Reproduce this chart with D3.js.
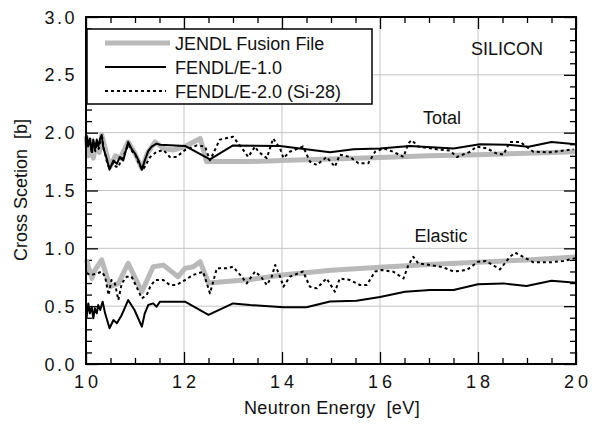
<!DOCTYPE html>
<html><head><meta charset="utf-8">
<script src="https://cdn.jsdelivr.net/npm/d3@7"></script>
<style>
body{margin:0;background:#fff;}
text{font-family:"Liberation Sans",Arial,Helvetica,sans-serif;fill:#111;}
</style></head>
<body><svg id="c" width="592" height="425"></svg>
<script>
// ---- data ----
const xTicks = [10,12,14,16,18,20];
const yTicks = [0.0,0.5,1.0,1.5,2.0,2.5,3.0];
const seriesNames = ["JENDL Fusion File","FENDL/E-1.0","FENDL/E-2.0 (Si-28)"];

const jendlTotal = [[10.0,1.97],[10.05,1.80],[10.1,1.93],[10.15,1.78],[10.2,1.90],[10.27,1.83],[10.32,1.98],[10.49,1.705],[10.6,1.80],[10.7,1.78],[10.86,1.92],[11.0,1.82],[11.14,1.69],[11.25,1.82],[11.41,1.92],[11.6,1.86],[11.78,1.85],[12.02,1.88],[12.33,1.95],[12.46,1.75],[13.35,1.75],[14,1.76],[15,1.773],[16,1.786],[17,1.80],[18,1.81],[19,1.822],[20,1.835]];
const fendl1Total = [[10.01,1.98],[10.047,1.89],[10.08,1.95],[10.116,1.835],[10.15,1.94],[10.18,1.85],[10.22,1.94],[10.25,1.88],[10.29,1.95],[10.32,1.98],[10.35,1.88],[10.39,1.82],[10.42,1.78],[10.48,1.68],[10.56,1.76],[10.63,1.73],[10.69,1.79],[10.76,1.76],[10.86,1.92],[10.93,1.86],[11.0,1.82],[11.07,1.76],[11.14,1.68],[11.2,1.76],[11.27,1.84],[11.34,1.88],[11.44,1.905],[11.51,1.895],[12.02,1.885],[12.53,1.77],[13.0,1.89],[13.96,1.885],[14.98,1.83],[15.46,1.856],[16.0,1.864],[16.61,1.884],[17.5,1.864],[18.04,1.90],[18.59,1.896],[19.03,1.878],[19.5,1.92],[20,1.90]];
const fendl2Total = [[10.01,1.95],[10.05,1.87],[10.08,1.93],[10.12,1.82],[10.15,1.92],[10.19,1.84],[10.22,1.92],[10.26,1.86],[10.3,1.94],[10.33,1.96],[10.36,1.86],[10.4,1.80],[10.44,1.72],[10.49,1.70],[10.56,1.74],[10.6,1.71],[10.66,1.70],[10.72,1.77],[10.8,1.83],[10.87,1.90],[10.94,1.84],[11.02,1.80],[11.08,1.73],[11.15,1.68],[11.2,1.705],[11.31,1.79],[11.44,1.835],[11.58,1.85],[11.71,1.79],[11.85,1.79],[12.02,1.85],[12.26,1.89],[12.43,1.88],[12.53,1.76],[12.73,1.94],[13.0,1.965],[13.21,1.85],[13.31,1.79],[13.45,1.88],[13.52,1.835],[13.69,1.78],[13.82,1.95],[13.96,1.864],[14.03,1.78],[14.16,1.835],[14.43,1.88],[14.57,1.75],[14.71,1.72],[14.91,1.79],[15.08,1.705],[15.18,1.81],[15.39,1.79],[15.56,1.735],[15.76,1.735],[15.9,1.835],[16.07,1.864],[16.27,1.835],[16.48,1.79],[16.58,1.91],[16.65,1.935],[16.78,1.88],[17.16,1.856],[17.43,1.845],[17.57,1.79],[17.84,1.835],[17.97,1.88],[18.18,1.864],[18.38,1.82],[18.52,1.81],[18.65,1.92],[18.86,1.92],[19.13,1.835],[19.47,1.83],[19.95,1.856]];

const jendlElastic = [[10.01,0.90],[10.12,0.74],[10.18,0.81],[10.32,0.90],[10.49,0.668],[10.66,0.697],[10.86,0.87],[11.14,0.625],[11.37,0.841],[11.58,0.855],[11.88,0.755],[12.02,0.827],[12.19,0.841],[12.33,0.884],[12.5,0.70],[13.35,0.73],[14,0.77],[15,0.81],[16,0.836],[17,0.86],[18,0.88],[19,0.90],[20,0.925]];
const fendl1Elastic = [[10.01,0.395],[10.047,0.524],[10.08,0.438],[10.116,0.495],[10.15,0.395],[10.18,0.481],[10.22,0.438],[10.25,0.51],[10.29,0.467],[10.34,0.539],[10.39,0.438],[10.48,0.309],[10.56,0.38],[10.63,0.352],[10.73,0.424],[10.86,0.553],[10.99,0.467],[11.14,0.323],[11.2,0.438],[11.27,0.51],[11.37,0.524],[11.44,0.495],[11.51,0.539],[12.02,0.539],[12.5,0.424],[13.0,0.524],[13.35,0.51],[14.03,0.49],[14.5,0.49],[14.98,0.54],[15.52,0.547],[16.0,0.58],[16.51,0.625],[17.02,0.64],[17.5,0.64],[18.0,0.69],[18.52,0.697],[18.99,0.674],[19.5,0.72],[20,0.703]];
const fendl2Elastic = [[10.01,0.784],[10.116,0.77],[10.22,0.784],[10.32,0.798],[10.39,0.755],[10.46,0.596],[10.52,0.726],[10.59,0.697],[10.66,0.553],[10.73,0.697],[10.83,0.755],[10.93,0.755],[11.03,0.668],[11.14,0.568],[11.24,0.596],[11.31,0.668],[11.41,0.726],[11.58,0.726],[11.71,0.683],[11.85,0.683],[12.02,0.726],[12.19,0.77],[12.39,0.798],[12.53,0.611],[12.67,0.827],[12.87,0.827],[13.0,0.841],[13.18,0.755],[13.28,0.697],[13.45,0.80],[13.57,0.755],[13.69,0.683],[13.79,0.755],[13.86,0.856],[13.96,0.755],[14.03,0.668],[14.16,0.755],[14.43,0.80],[14.57,0.668],[14.71,0.654],[14.91,0.74],[15.08,0.625],[15.18,0.74],[15.39,0.726],[15.59,0.683],[15.73,0.683],[15.9,0.80],[16.03,0.812],[16.27,0.798],[16.48,0.74],[16.58,0.856],[16.68,0.927],[16.78,0.87],[17.02,0.856],[17.29,0.836],[17.5,0.80],[17.77,0.812],[18.0,0.884],[18.16,0.89],[18.45,0.818],[18.65,0.927],[18.76,0.962],[18.92,0.927],[19.13,0.879],[19.47,0.879],[19.74,0.89],[19.98,0.914]];

// ---- layout ----
const svg = d3.select("#c");
const L=86, R=576, T=17, B=364;
const x = d3.scaleLinear().domain([10,20]).range([L,R]);
const y = d3.scaleLinear().domain([0,3]).range([B,T]);

const grid = svg.append("g").attr("stroke","#c4c4c4").attr("stroke-width",1);
[0.5,1.0,1.5,2.0,2.5].forEach(v=>grid.append("line").attr("x1",L).attr("x2",R).attr("y1",y(v)).attr("y2",y(v)));
[12,14,16,18].forEach(v=>grid.append("line").attr("y1",T).attr("y2",B).attr("x1",x(v)).attr("x2",x(v)));

const xMinor = d3.range(10,20.01,0.5).filter(v=>!xTicks.includes(v));
const yMinor = d3.range(0,3.001,0.1).map(v=>+v.toFixed(1)).filter(v=>Math.abs(v*2-Math.round(v*2))>1e-6);
const yMajor = yTicks;

function styleAxis(g){ g.select(".domain").remove(); g.selectAll("line").attr("stroke","#000").attr("stroke-width",1.3); }

svg.append("g").attr("transform",`translate(0,${B})`).call(d3.axisBottom(x).tickValues(xTicks).tickSize(-12).tickFormat("")).call(styleAxis);
svg.append("g").attr("transform",`translate(0,${B})`).call(d3.axisBottom(x).tickValues(xMinor).tickSize(-6).tickFormat("")).call(styleAxis);
svg.append("g").attr("transform",`translate(0,${T})`).call(d3.axisTop(x).tickValues(xTicks).tickSize(-12).tickFormat("")).call(styleAxis);
svg.append("g").attr("transform",`translate(0,${T})`).call(d3.axisTop(x).tickValues(xMinor).tickSize(-6).tickFormat("")).call(styleAxis);
svg.append("g").attr("transform",`translate(${L},0)`).call(d3.axisLeft(y).tickValues(yMajor).tickSize(-12).tickFormat("")).call(styleAxis);
svg.append("g").attr("transform",`translate(${L},0)`).call(d3.axisLeft(y).tickValues(yMinor).tickSize(-6).tickFormat("")).call(styleAxis);
svg.append("g").attr("transform",`translate(${R},0)`).call(d3.axisRight(y).tickValues(yMajor).tickSize(-12).tickFormat("")).call(styleAxis);
svg.append("g").attr("transform",`translate(${R},0)`).call(d3.axisRight(y).tickValues(yMinor).tickSize(-6).tickFormat("")).call(styleAxis);

// tick labels
svg.append("g").selectAll("text").data(xTicks).join("text")
  .attr("x",d=>x(d)+2).attr("y",B+24).attr("text-anchor","middle")
  .style("font-size","18px").style("letter-spacing","4px").text(d=>String(d));
svg.append("g").selectAll("text").data(yTicks).join("text")
  .attr("x",L-9).attr("y",d=>y(d)+6.5).attr("text-anchor","end")
  .style("font-size","18px").style("letter-spacing","2.5px").text(d=>d.toFixed(1));

// axis titles
svg.append("text").attr("x",332).attr("y",414).attr("text-anchor","middle").style("font-size","18px").style("letter-spacing","0.4px").style("white-space","pre").text("Neutron Energy  [eV]");
svg.append("text").attr("transform","translate(27,190) rotate(-90)").attr("text-anchor","middle").style("font-size","18px").style("white-space","pre").text("Cross Scetion  [b]");

// lines
const line = d3.line().x(d=>x(d[0])).y(d=>y(d[1]));
const gray = {stroke:"#b9b9b9", w:5, dash:null};
const solid = {stroke:"#000", w:2, dash:null};
const dashed = {stroke:"#000", w:2, dash:"3,3"};
const plot = svg.append("g");
function draw(data, s){
  plot.append("path").datum(data).attr("d",line).attr("fill","none")
    .attr("stroke",s.stroke).attr("stroke-width",s.w).attr("stroke-dasharray",s.dash).attr("stroke-linejoin","round");
}
draw(jendlTotal, gray); draw(jendlElastic, gray);
draw(fendl1Total, solid); draw(fendl1Elastic, solid);
draw(fendl2Total, dashed); draw(fendl2Elastic, dashed);

// frame
svg.append("rect").attr("x",L).attr("y",T).attr("width",R-L).attr("height",B-T).attr("fill","none").attr("stroke","#000").attr("stroke-width",2);

// legend
const lg = svg.append("g");
lg.append("rect").attr("x",L+1).attr("y",29).attr("width",285).attr("height",75).attr("fill","#fff").attr("stroke","#000").attr("stroke-width",1.5);
const styles=[gray,solid,dashed]; const ly=[43,67,91];
seriesNames.forEach((n,i)=>{
  lg.append("line").attr("x1",105).attr("x2",i==0?170:166).attr("y1",ly[i]).attr("y2",ly[i])
    .attr("stroke",styles[i].stroke).attr("stroke-width",styles[i].w).attr("stroke-dasharray",styles[i].dash);
  lg.append("text").attr("x",175).attr("y",ly[i]+6.5).style("font-size","18px").text(n);
});

// annotations
svg.append("text").attr("x",507).attr("y",55).attr("text-anchor","middle").style("font-size","18px").text("SILICON");
svg.append("text").attr("x",442).attr("y",124).attr("text-anchor","middle").style("font-size","18px").text("Total");
svg.append("text").attr("x",441).attr("y",242).attr("text-anchor","middle").style("font-size","18px").text("Elastic");
</script></body></html>
